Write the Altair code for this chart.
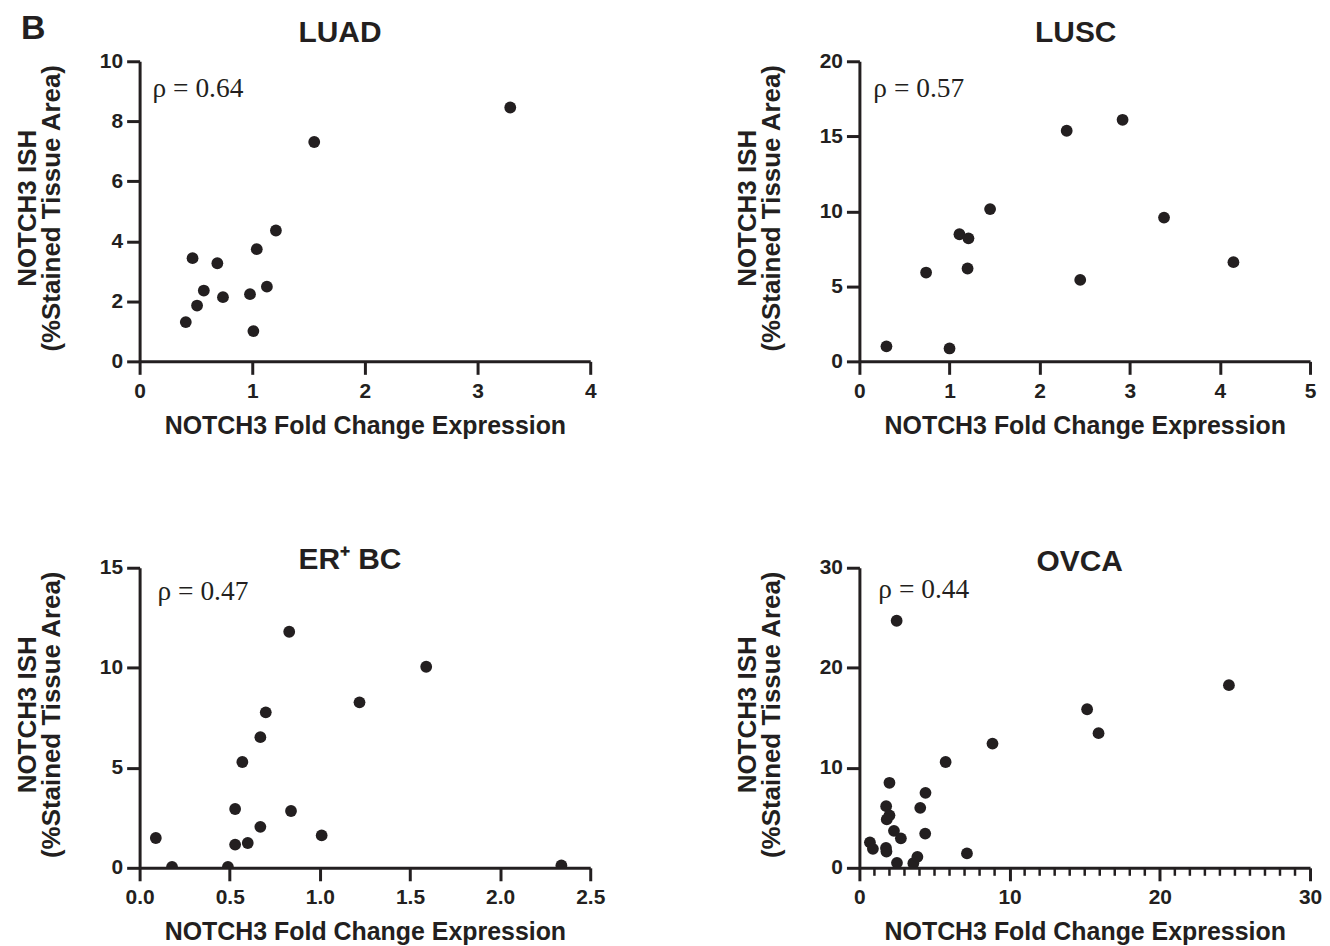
import altair as alt
import pandas as pd

FONT = "Liberation Sans, Arial, Helvetica, sans-serif"
SERIF = "Liberation Serif, Times New Roman, serif"
INK = "#231f20"
W, H = 452, 301

X_TITLE = "NOTCH3 Fold Change Expression"
Y_TITLE = ["NOTCH3 ISH", "(%Stained Tissue Area)"]

# ---- data ----
luad_x = [0.41, 0.51, 0.47, 0.57, 0.69, 0.74, 0.98, 1.01, 1.04, 1.13, 1.21, 1.55, 3.29]
luad_y = [1.31, 1.86, 3.44, 2.36, 3.27, 2.14, 2.24, 1.01, 3.74, 2.49, 4.36, 7.31, 8.46]

lusc_x = [0.30, 0.74, 1.00, 1.11, 1.21, 1.20, 1.45, 2.30, 2.45, 2.92, 3.38, 4.15]
lusc_y = [1.00, 5.92, 0.86, 8.47, 8.20, 6.19, 10.15, 15.37, 5.43, 16.10, 9.58, 6.61]

er_x = [0.09, 0.18, 0.49, 0.53, 0.53, 0.60, 0.57, 0.67, 0.70, 0.67, 0.83, 0.84, 1.01, 1.22, 1.59, 2.34]
er_y = [1.49, 0.05, 0.05, 2.94, 1.16, 1.24, 5.29, 6.53, 7.77, 2.05, 11.80, 2.84, 1.62, 8.27, 10.05, 0.12]

ov_x = [2.48, 24.6, 15.16, 15.92, 8.86, 5.74, 2.00, 4.40, 1.78, 4.05, 2.00, 1.82, 2.30,
        4.38, 2.76, 0.70, 0.90, 1.77, 1.80, 2.50, 3.59, 3.86, 7.16]
ov_y = [24.7, 18.26, 15.85, 13.46, 12.42, 10.58, 8.50, 7.50, 6.16, 6.00, 5.25, 4.84, 3.70,
        3.42, 2.95, 2.55, 1.90, 1.99, 1.62, 0.50, 0.46, 1.10, 1.44]

panel_titles = ["LUAD", "LUSC", "ER\u207a BC", "OVCA"]
rho_texts = ["\u03c1 = 0.64", "\u03c1 = 0.57", "\u03c1 = 0.47", "\u03c1 = 0.44"]
panel_letter = ["B"]

luad_xticks = [0, 1, 2, 3, 4]
luad_yticks = [0, 2, 4, 6, 8, 10]
lusc_xticks = [0, 1, 2, 3, 4, 5]
lusc_yticks = [0, 5, 10, 15, 20]
er_xticks = [0.0, 0.5, 1.0, 1.5, 2.0, 2.5]
er_yticks = [0, 5, 10, 15]
ov_xticks = [0, 10, 20, 30]
ov_yticks = [0, 10, 20, 30]
ov_minor = [v for v in range(1, 30) if v % 10 != 0]


def txt(value, x, y, size, font, weight="normal", align="left"):
    return alt.Chart(pd.DataFrame({"t": [value]})).mark_text(
        font=font, fontSize=size, fontWeight=weight, color=INK,
        align=align, baseline="alphabetic"
    ).encode(text="t:N", x=alt.value(x), y=alt.value(y))


def panel(xs, ys, xdom, xticks, ydom, yticks, title, tx, ty, rho, rx, ry,
          xfmt="d", minor=None, letter=None):
    df = pd.DataFrame({"x": xs, "y": ys})
    pts = alt.Chart(df).mark_circle(size=140, color=INK, opacity=1, clip=True).encode(
        x=alt.X("x:Q",
                scale=alt.Scale(domain=xdom, nice=False, zero=False),
                axis=alt.Axis(values=xticks, format=xfmt, title=X_TITLE,
                              labelFlush=False, labelPadding=6, titlePadding=12,
                              titleFontSize=25)),
        y=alt.Y("y:Q",
                scale=alt.Scale(domain=ydom, nice=False, zero=False),
                axis=alt.Axis(values=yticks, format="d", title=Y_TITLE,
                              labelPadding=4, titlePadding=35, titleY=147,
                              titleFontSize=26, titleLineHeight=24)),
    )
    layers = [pts,
              txt(title, tx, ty, 30, FONT, "bold", "center"),
              txt(rho, rx, ry, 27.5, SERIF)]
    if minor is not None:
        mdf = pd.DataFrame({"m": minor})
        layers.append(
            alt.Chart(mdf).mark_rule(color=INK, strokeWidth=2.5).encode(
                x=alt.X("m:Q"), y=alt.value(H), y2=alt.value(H + 8))
        )
    if letter is not None:
        layers.append(txt(letter, -119, -22, 34, FONT, "bold"))
    return alt.layer(*layers).properties(width=W, height=H)


p1 = panel(luad_x, luad_y, [0, 4], luad_xticks, [0, 10], luad_yticks,
           panel_titles[0], 201, -19, rho_texts[0], 13, 36, letter=panel_letter[0])
p2 = panel(lusc_x, lusc_y, [0, 5], lusc_xticks, [0, 20], lusc_yticks,
           panel_titles[1], 217, -19, rho_texts[1], 14, 36)
p3 = panel(er_x, er_y, [0, 2.5], er_xticks, [0, 15], er_yticks,
           panel_titles[2], 211, 1, rho_texts[2], 18, 32, xfmt=".1f")
p4 = panel(ov_x, ov_y, [0, 30], ov_xticks, [0, 30], ov_yticks,
           panel_titles[3], 221, 3, rho_texts[3], 19, 30, minor=ov_minor)

chart = alt.concat(p1, p2, p3, p4, columns=2,
                   spacing={"row": 107, "column": 129}).configure_view(
    stroke=None
).configure_axis(
    grid=False,
    domainColor=INK, domainWidth=3,
    tickColor=INK, tickWidth=3, tickSize=13,
    labelFont=FONT, labelFontSize=21, labelFontWeight="bold", labelColor=INK,
    titleFont=FONT, titleFontSize=24, titleFontWeight="bold", titleColor=INK,
).properties(
    padding={"top": 3, "left": 6, "right": 0, "bottom": 5}
)

chart.save("out.html", embed_options={"renderer": "svg", "actions": False})
